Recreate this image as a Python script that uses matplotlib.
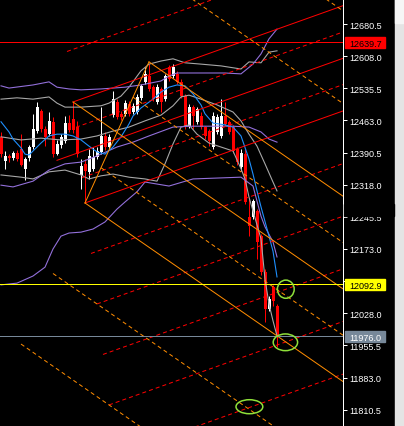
import matplotlib
matplotlib.use("Agg")
import matplotlib.pyplot as plt
import matplotlib.transforms as mtransforms
from matplotlib.patches import Rectangle, Ellipse
import numpy as np

plt.rcParams['lines.scale_dashes'] = False
plt.rcParams['font.family'] = ['Liberation Sans', 'DejaVu Sans']

# --- candles (one per bar, bar index = position) ---
opens = [12426, 12372, 12383, 12378, 12390, 12399, 12354, 12378, 12403, 12439,
         12484, 12444, 12432, 12460, 12387, 12408, 12417, 12457, 12466, 12448,
         12340, 12365, 12347, 12354, 12381, 12392, 12428, 12403, 12475, 12505,
         12478, 12478, 12500, 12482, 12482, 12514, 12550, 12563, 12538, 12505,
         12534, 12511, 12584, 12563, 12568, 12550, 12518, 12450, 12493, 12460,
         12473, 12448, 12439, 12403, 12437, 12428, 12473, 12460, 12448, 12399,
         12358, 12387, 12245, 12245, 12259, 12202, 12121, 12038, 12087, 12044]
highs = [12437, 12394, 12387, 12394, 12396, 12432, 12381, 12408, 12478, 12505,
         12489, 12450, 12482, 12471, 12419, 12432, 12473, 12475, 12505, 12462,
         12376, 12376, 12399, 12403, 12403, 12493, 12437, 12432, 12529, 12511,
         12484, 12509, 12507, 12502, 12523, 12545, 12584, 12590, 12543, 12545,
         12538, 12568, 12588, 12590, 12575, 12557, 12523, 12500, 12498, 12493,
         12482, 12450, 12444, 12482, 12478, 12511, 12505, 12464, 12453, 12403,
         12399, 12399, 12286, 12286, 12263, 12207, 12128, 12067, 12092, 12049]
lows = [12381, 12354, 12369, 12374, 12372, 12360, 12329, 12372, 12399, 12435,
        12437, 12405, 12428, 12381, 12385, 12401, 12412, 12437, 12435, 12381,
        12308, 12277, 12331, 12349, 12376, 12387, 12396, 12399, 12471, 12466,
        12464, 12473, 12473, 12478, 12478, 12509, 12545, 12529, 12507, 12500,
        12482, 12507, 12552, 12559, 12545, 12514, 12444, 12446, 12444, 12455,
        12444, 12421, 12405, 12399, 12432, 12423, 12450, 12432, 12390, 12363,
        12349, 12275, 12202, 12241, 12150, 12114, 12008, 12033, 12044, 11952]
closes = [12387, 12383, 12378, 12390, 12376, 12363, 12376, 12403, 12444, 12493,
          12444, 12426, 12462, 12387, 12410, 12426, 12457, 12441, 12441, 12387,
          12360, 12349, 12383, 12381, 12394, 12428, 12403, 12426, 12511, 12471,
          12471, 12502, 12478, 12496, 12516, 12541, 12568, 12534, 12511, 12538,
          12505, 12563, 12557, 12584, 12550, 12518, 12450, 12493, 12473, 12489,
          12448, 12428, 12417, 12473, 12471, 12473, 12455, 12437, 12394, 12369,
          12390, 12279, 12225, 12281, 12189, 12121, 12038, 12060, 12056, 11976]

# --- indicators: (bar, value) samples ---
ma_bars = [0, 2, 3, 5, 6, 7, 8, 10, 12, 14, 16, 18, 20, 22, 24, 26, 28, 30, 32, 33,
           35, 38, 40, 42, 44, 46, 48, 50, 51, 53, 56, 58, 60, 62, 63, 64, 65, 67, 68, 69]
ma = [12460, 12437, 12421, 12401, 12387, 12385, 12394, 12412, 12428, 12432,
      12432, 12428, 12419, 12405, 12392, 12387, 12403, 12426, 12455, 12473,
      12491, 12511, 12527, 12538, 12543, 12541, 12523, 12498, 12478, 12457,
      12453, 12448, 12428, 12376, 12342, 12304, 12268, 12202, 12168, 12110]

bb_up_bars = [0, 4, 8, 12, 14, 16, 20, 25, 27, 30, 32, 35, 37, 40, 43, 46, 50, 55, 60, 62, 65, 67, 69]
bb_up = [12511, 12514, 12511, 12516, 12502, 12493, 12493, 12496, 12502, 12518, 12538, 12575,
         12590, 12597, 12602, 12593, 12590, 12586, 12579, 12595, 12593, 12617, 12620]
bb_mid_bars = [0, 5, 10, 15, 20, 24, 28, 32, 36, 40, 43, 45, 47, 50, 54, 58, 60, 62, 64, 66, 68, 69]
bb_mid = [12426, 12419, 12423, 12419, 12421, 12428, 12439, 12448, 12462, 12475, 12496,
          12516, 12520, 12511, 12498, 12482, 12462, 12432, 12405, 12365, 12324, 12304]
bb_lo_bars = [0, 5, 8, 12, 16, 20, 22, 25, 28, 32, 36, 39, 41, 43, 45, 47, 49, 52, 55, 58,
              60, 61, 62, 63, 65, 66, 67, 68, 69]
bb_lo = [12340, 12335, 12331, 12347, 12351, 12340, 12331, 12338, 12342, 12335, 12331, 12326,
         12365, 12410, 12448, 12453, 12432, 12412, 12403, 12394, 12354, 12331, 12290, 12259,
         12196, 12105, 12049, 12011, 11977]

pb_up_bars = [0, 2, 8, 12, 14, 17, 20, 25, 31, 35, 40, 42, 44, 56, 60, 63, 65, 67, 69]
pb_up = [12541, 12536, 12543, 12550, 12538, 12534, 12532, 12534, 12538, 12543, 12552, 12563,
         12570, 12570, 12568, 12590, 12613, 12647, 12669]
pb_mid_bars = [0, 3, 8, 12, 16, 20, 24, 29, 33, 37, 43, 48, 58, 62, 65, 67, 69]
pb_mid = [12317, 12313, 12326, 12351, 12365, 12369, 12383, 12403, 12414, 12428, 12448, 12450,
          12450, 12448, 12437, 12421, 12414]
pb_lo_bars = [0, 4, 8, 11, 13, 15, 17, 20, 23, 26, 29, 31, 34, 36, 42, 48, 60, 63, 65, 66, 68, 69]
pb_lo = [12092, 12096, 12112, 12132, 12173, 12202, 12209, 12211, 12218, 12234, 12263, 12279,
         12302, 12324, 12315, 12331, 12335, 12315, 12247, 12223, 12189, 12155]

# --- pitchforks: anchor points (bar, price) and extra dashed levels ---
red_A, red_B, red_C = (14, 12373.0), (18, 12504.6), (21, 12276.8)
red_levels = [-2, -0.5, 0.5, 2, 3, 4, 5, 6]
org_A, org_B, org_C = (18, 12504.6), (37, 12595.0), (21, 12276.8)
org_levels = [-3, -2, -0.5, 0.5, 2, 3]

# --- price lines and marks ---
high_line = 12639.7
mid_line = 12092.9
bid = 11976.0
yticks = [12680.5, 12608.0, 12535.5, 12463.0, 12390.5, 12318.0, 12245.5,
          12173.0, 12100.5, 12028.0, 11955.5, 11883.0, 11810.5]
circles = [(71.2, 12082.3, 4.2, 41.0), (71.1, 11962.5, 6.1, 37.7), (62.1, 11817.2, 6.7, 31.6)]

W, H = 404, 427
fig = plt.figure(figsize=(W / 100, H / 100), dpi=100, facecolor='black')
ax = fig.add_axes([0, 0, 343 / W, 1])
ax.set_facecolor('black')
x_end = 85.5
ax.set_xlim(-0.25, x_end)
ax.set_ylim(11773.7, 12736.9)

px = 0.72  # one pixel in points
RED, ORANGE, BLUE = '#FF0000', '#FF8C00', '#1E90FF'
GRAY, PURPLE = '#A8A8A8', '#9370DB'
dash = (0, (2.9, 2.2))

# candles
for i, (o, h, l, c) in enumerate(zip(opens, highs, lows, closes)):
    col = 'white' if c >= o else RED
    ax.vlines(i, l, h, color=col, lw=px, zorder=2)
    ax.bar(i, max(abs(c - o), 1.5), bottom=min(o, c), width=0.75, color=col,
           linewidth=0, zorder=2)

# indicators
for bars, vals, col in [(bb_up_bars, bb_up, GRAY), (bb_mid_bars, bb_mid, GRAY),
                        (bb_lo_bars, bb_lo, GRAY), (pb_up_bars, pb_up, PURPLE),
                        (pb_mid_bars, pb_mid, PURPLE), (pb_lo_bars, pb_lo, PURPLE),
                        (ma_bars, ma, BLUE)]:
    ax.plot(bars, vals, color=col, lw=px * 1.1, zorder=3)


def pitchfork(A, B, C, levels, col):
    A, B, C = np.array(A), np.array(B), np.array(C)
    M = (B + C) / 2
    slope = (M[1] - A[1]) / (M[0] - A[0])

    def ray(P, **kw):
        ax.plot([P[0], x_end], [P[1], P[1] + slope * (x_end - P[0])], color=col,
                lw=px, zorder=4, **kw)
    ray(A)
    ray(B)
    ray(C)
    for t in levels:
        ray(M + t * (C - M), linestyle=dash)


pitchfork(red_A, red_B, red_C, red_levels, RED)
pitchfork(org_A, org_B, org_C, org_levels, ORANGE)
ax.plot([org_C[0], org_B[0]], [org_C[1], org_B[1]], color=ORANGE, lw=px, zorder=4)

ax.axhline(high_line, color=RED, lw=px, zorder=5)
ax.axhline(mid_line, color='#FFFF00', lw=px, zorder=5)
ax.axhline(bid, color='#778899', lw=px, zorder=5)

for bx, by, bw, bh in circles:
    ax.add_patch(Ellipse((bx, by), bw, bh, fill=False, edgecolor='#8FE03A',
                         lw=1.1, zorder=6))

for s in ['top', 'left', 'bottom']:
    ax.spines[s].set_visible(False)
ax.spines['right'].set_color('white')
ax.spines['right'].set_linewidth(px)
ax.set_xticks([])
ax.yaxis.tick_right()
ax.set_yticks(yticks)
ax.set_yticklabels([f"{v:.1f}" for v in yticks])
ax.tick_params(axis='y', colors='white', length=2.9, width=px, pad=1.4, labelsize=6.5)

# right panel extras
fig.patches.append(Rectangle((395 / W, 0), 9 / W, 1, transform=fig.transFigure,
                             color='#E4E4E4', zorder=1))
fig.patches.append(Rectangle((395 / W, (H - 24) / H), 9 / W, 24 / H,
                             transform=fig.transFigure, color='#F6F6F6', zorder=1))
fig.patches.append(Rectangle((344 / W, (H - 217) / H), 50 / W, 12 / H,
                             transform=fig.transFigure, color='black', zorder=1))

blend = mtransforms.blended_transform_factory(fig.transFigure, ax.transData)
box_h = 11 * 2.2558
for price, face, txt in [(high_line, RED, 'black'), (mid_line, '#FFFF00', 'black'),
                         (bid, '#778899', 'white')]:
    fig.patches.append(Rectangle((345 / W, price - box_h / 2), 40 / W, box_h,
                                 transform=blend, color=face, zorder=2))
    fig.text(365.5 / W, price, f"{price:.1f}", transform=blend, color=txt,
             fontsize=6.5, ha='center', va='center_baseline', zorder=3)

fig.savefig('out.png', dpi=100, facecolor='black')
